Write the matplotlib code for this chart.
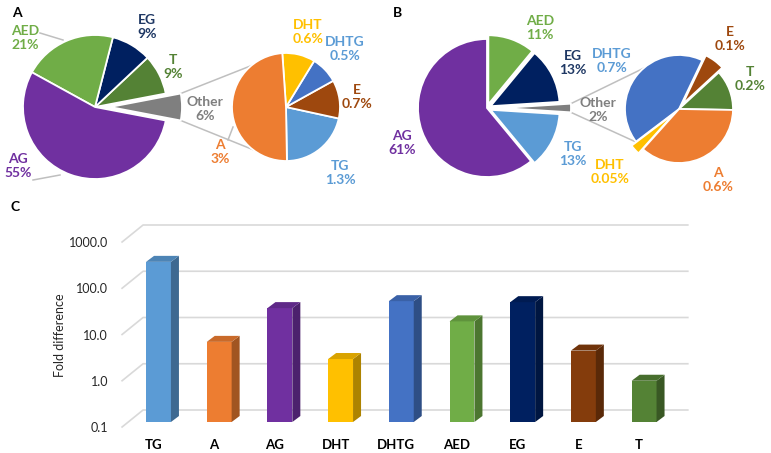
import numpy as np
import matplotlib
matplotlib.use('Agg')
import matplotlib.pyplot as plt
from matplotlib.patches import Polygon
from matplotlib.transforms import ScaledTranslation
from matplotlib.ticker import NullLocator
from matplotlib.colors import to_rgb

plt.rcParams['font.family'] = ['Lato', 'DejaVu Sans']

W, H = 771, 453

# panel A: main pie (drawn counterclockwise starting with "Other")
a_main_labels = ['Other', 'T', 'EG', 'AED', 'AG']
a_main_values = [6, 9, 9, 21, 55]
# panel A: breakdown of "Other"
a_sub_labels = ['TG', 'E', 'DHTG', 'DHT', 'A']
a_sub_values = [1.3, 0.7, 0.5, 0.6, 3]

# panel B
b_main_labels = ['Other', 'EG', 'AED', 'AG', 'TG']
b_main_values = [2, 13, 11, 61, 13]
b_sub_labels = ['T', 'E', 'DHTG', 'DHT', 'A']
b_sub_values = [0.2, 0.1, 0.7, 0.05, 0.6]

# panel C: fold difference
fold_labels = ['TG', 'A', 'AG', 'DHT', 'DHTG', 'AED', 'EG', 'E', 'T']
fold_values = [290, 5.4, 29, 2.3, 41, 15, 39, 3.5, 0.78]
fold_ticks = [0.1, 1, 10, 100, 1000]
fold_ticklabels = ['0.1', '1.0', '10.0', '100.0', '1000.0']

colors = {'AG': '#7030A0', 'AED': '#70AD47', 'EG': '#002060', 'T': '#548235',
          'Other': '#7F7F7F', 'A': '#ED7D31', 'DHT': '#FFC000', 'DHTG': '#4472C4',
          'E': '#9E480E', 'TG': '#5B9BD5'}
text_colors = dict(colors, DHTG='#5B9BD5', EG='#1F3864')
bar_colors = dict(colors, E='#843C0C')
line_gray = '#BFBFBF'


def py(y):
    # pixel rows are counted from the top
    return H - y


def draw_pie(ax, values, names, cx, cy, r, start, explode=None):
    wedges, _ = ax.pie(values, colors=[colors[n] for n in names], startangle=start,
                       radius=r, center=(cx, py(cy)), explode=explode,
                       wedgeprops=dict(edgecolor='white', linewidth=1.3))
    return wedges


def put_labels(ax, names, values, pos):
    for n, v in zip(names, values):
        if n not in pos:
            continue
        x, y = pos[n]
        ax.text(x, py(y), f'{n}\n{v:g}%', color=text_colors[n], ha='center', va='center',
                fontsize=10, fontweight='bold', linespacing=1.15)


def connectors(ax, other_wedge, cx2, cy2, r2, ang_hi, ang_lo):
    w = other_wedge
    c = np.array(w.center)
    p_hi = c + w.r * np.array([np.cos(np.radians(w.theta2)), np.sin(np.radians(w.theta2))])
    p_lo = c + w.r * np.array([np.cos(np.radians(w.theta1)), np.sin(np.radians(w.theta1))])
    q_hi = np.array([cx2, py(cy2)]) + r2 * np.array([np.cos(np.radians(ang_hi)), np.sin(np.radians(ang_hi))])
    q_lo = np.array([cx2, py(cy2)]) + r2 * np.array([np.cos(np.radians(ang_lo)), np.sin(np.radians(ang_lo))])
    for p, q in ((p_hi, q_hi), (p_lo, q_lo)):
        ax.plot([p[0], q[0]], [p[1], q[1]], color=line_gray, lw=1.1, zorder=0)


fig = plt.figure(figsize=(W / 100, H / 100), dpi=100)
ov = fig.add_axes([0, 0, 1, 1])

# ---- panel A
wa = draw_pie(ov, a_main_values, a_main_labels, 95, 107, 72,
              -180 * a_main_values[0] / sum(a_main_values), explode=[15, 0, 0, 0, 0])
draw_pie(ov, a_sub_values, a_sub_labels, 286, 107, 54, -89)
connectors(ov, wa[0], 286, 107, 54, 130, 232)
put_labels(ov, a_main_labels, a_main_values,
           {'AED': (25, 38), 'EG': (147, 27), 'T': (173, 67), 'Other': (205, 109), 'AG': (18, 166)})
put_labels(ov, a_sub_labels, a_sub_values,
           {'DHT': (308, 32), 'DHTG': (345, 49), 'E': (357, 97), 'TG': (340, 173), 'A': (220, 152)})
for seg in ([(40, 33), (63, 40)], [(33, 180), (60, 175)], [(228, 140), (233, 127)]):
    ov.plot([p[0] for p in seg], [py(p[1]) for p in seg], color=line_gray, lw=1.1)

# ---- panel B
wb = draw_pie(ov, b_main_values, b_main_labels, 487, 108, 69,
              -180 * b_main_values[0] / sum(b_main_values), explode=[15, 4, 4, 0, 4])
draw_pie(ov, b_sub_values, b_sub_labels, 679, 109, 54, -1, explode=[0, 6, 0, 6, 0])
connectors(ov, wb[0], 679, 109, 54, 131, 218)
put_labels(ov, b_main_labels, b_main_values,
           {'AED': (540, 28), 'EG': (573, 63), 'Other': (598, 110), 'TG': (573, 154), 'AG': (402, 143)})
put_labels(ov, b_sub_labels, b_sub_values,
           {'DHTG': (612, 61), 'DHT': (610, 172), 'E': (730, 39), 'T': (750, 79), 'A': (718, 180)})

for letter, (x, y) in {'A': (17, 13), 'B': (397, 13), 'C': (15, 207)}.items():
    ov.text(x, py(y), letter, ha='center', va='center', fontsize=10, fontweight='bold')

ov.set_xlim(0, W)
ov.set_ylim(0, H)
ov.axis('off')

# ---- panel C: pseudo-3D columns on a log axis
base = 0.1
px_unit, px_dec = 60.7, 46.25
x0_px, base_px = 158.5, 422
xlim = (-0.6, 8.75)
top = 10 ** 3.6
left = x0_px + xlim[0] * px_unit
width = (xlim[1] - xlim[0]) * px_unit
height = np.log10(top / base) * px_dec
axc = fig.add_axes([left / W, (H - base_px) / H, width / W, height / H])
axc.set_yscale('log')
axc.set_xlim(xlim)
axc.set_ylim(base, top)
axc.patch.set_alpha(0)
for s in axc.spines.values():
    s.set_visible(False)

# walls: gridlines bend from the front edge to the back wall
front = 10 ** (-5 / px_dec)
back = 10 ** (12 / px_dec)
xwall = xlim[0] + 21 / px_unit
for v in fold_ticks:
    axc.plot([xlim[0], xwall, 8.72], [v * front, v * back, v * back],
             color='#D9D9D9', lw=1.2, clip_on=False, zorder=0)

x = np.arange(len(fold_labels))
bw = 0.41
dx = 8 / px_unit
f = 10 ** (6 / px_dec)
axc.bar(x, np.array(fold_values) - base, bottom=base, width=bw,
        color=[bar_colors[n] for n in fold_labels], zorder=2)
for xi, v, n in zip(x, fold_values, fold_labels):
    c = np.array(to_rgb(bar_colors[n]))
    xr, xl = xi + bw / 2, xi - bw / 2
    axc.add_patch(Polygon([(xr, base), (xr, v), (xr + dx, v * f), (xr + dx, base * f)],
                          closed=True, facecolor=c * 0.68, edgecolor='none', zorder=2))
    axc.add_patch(Polygon([(xl, v), (xr, v), (xr + dx, v * f), (xl + dx, v * f)],
                          closed=True, facecolor=c * 0.85, edgecolor='none', zorder=2))

axc.set_yticks(fold_ticks)
axc.set_yticklabels(fold_ticklabels)
axc.yaxis.set_minor_locator(NullLocator())
axc.set_xticks(x)
axc.set_xticklabels(fold_labels, fontweight='bold')
axc.tick_params(axis='y', length=0, pad=10, labelsize=9, labelcolor='#262626')
axc.tick_params(axis='x', length=0, pad=12, labelsize=9.5)
for lab in axc.get_yticklabels():
    lab.set_transform(lab.get_transform() + ScaledTranslation(0, -0.05, fig.dpi_scale_trans))
for lab in axc.get_xticklabels():
    lab.set_transform(lab.get_transform() + ScaledTranslation(-0.05, 0, fig.dpi_scale_trans))
axc.set_ylabel('Fold difference', fontsize=9, color='#262626')
axc.yaxis.set_label_coords(-0.099, 0.41)

fig.savefig('out.png', dpi=100)
